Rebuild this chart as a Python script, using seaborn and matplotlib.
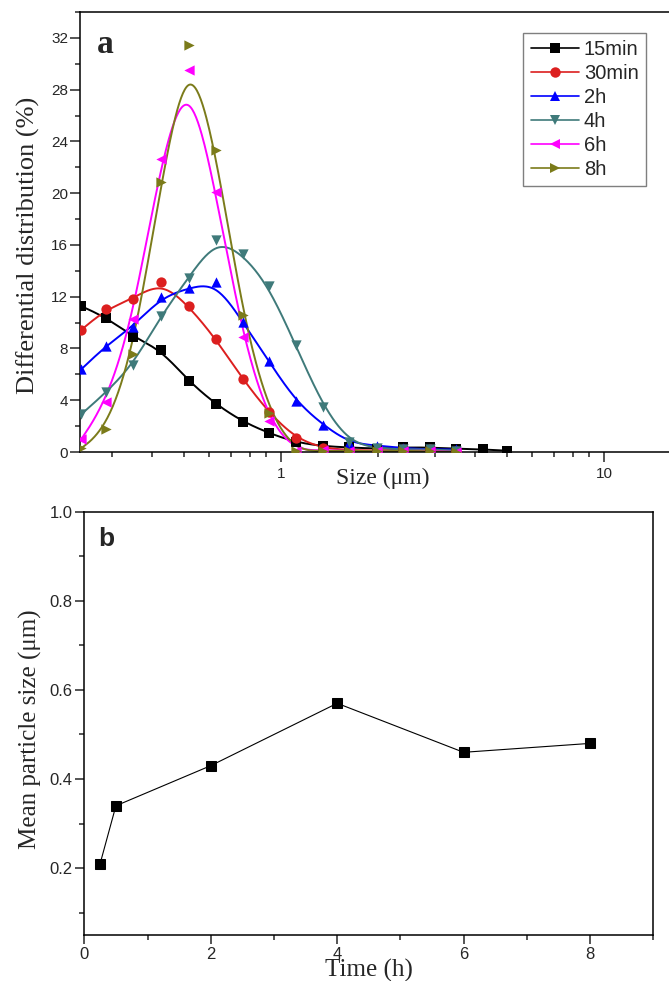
import numpy as np
import matplotlib
matplotlib.use('Agg')
import matplotlib.pyplot as plt
import matplotlib.ticker as mticker
from matplotlib.lines import Line2D
import seaborn as sns

sns.set_style('ticks')
plt.rcParams['font.family'] = ['Liberation Sans', 'DejaVu Sans']

# panel a: size distribution
size_um = [0.241, 0.288, 0.348, 0.426, 0.518, 0.629, 0.761, 0.916, 1.11,
           1.35, 1.63, 1.98, 2.39, 2.89, 3.49, 4.22, 5.01]
dist_15min = [11.27, 10.39, 8.92, 7.89, 5.47, 3.69, 2.35, 1.47, 0.75,
              0.45, 0.35, 0.25, 0.35, 0.35, 0.25, 0.20, 0.10]
dist_30min = [9.44, 11.03, 11.83, 13.17, 11.29, 8.74, 5.65, 3.07, 1.06,
              0.30, 0.15, 0.10, 0.20, 0.20, 0.10]
dist_2h = [6.39, 8.22, 9.69, 11.94, 12.66, 13.10, 10.08, 7.04, 3.94,
           2.10, 0.70, 0.50, 0.30, 0.20, 0.20]
dist_4h = [2.91, 4.62, 6.73, 10.54, 13.48, 16.40, 15.31, 12.84, 8.28,
           3.51, 0.75, 0.30, 0.20, 0.20, 0.10]
dist_6h = [0.98, 3.89, 10.26, 22.66, 29.49, 20.08, 8.92, 2.40, 0.10,
           0.15, 0.10, 0.05, 0.10, 0.10, 0.00]
dist_8h = [0.28, 1.80, 7.58, 20.83, 31.48, 23.36, 10.60, 3.04, 0.05,
           0.10, 0.10, 0.05, 0.10, 0.05, 0.00]

labels = ['15min', '30min', '2h', '4h', '6h', '8h']
series = [dist_15min, dist_30min, dist_2h, dist_4h, dist_6h, dist_8h]
colors = ['black', '#dc1f1f', '#0000ff', '#3f7a7a', '#ff00ff', '#7b7b1a']
markers = ['s', 'o', '^', 'v', '<', '>']

# panel b: mean particle size
time_h = [0.25, 0.5, 2, 4, 6, 8]
mean_size = [0.21, 0.34, 0.43, 0.57, 0.46, 0.48]


def bspline(xs, ys, n=30):
    # Origin-style cubic B-spline with the data as control points (log x)
    px = np.log10(np.asarray(xs, float))
    py = np.asarray(ys, float)
    px = np.r_[px[0], px[0], px, px[-1], px[-1]]
    py = np.r_[py[0], py[0], py, py[-1], py[-1]]
    t = np.linspace(0, 1, n)
    b0 = (1 - t) ** 3 / 6
    b1 = (3 * t ** 3 - 6 * t ** 2 + 4) / 6
    b2 = (-3 * t ** 3 + 3 * t ** 2 + 3 * t + 1) / 6
    b3 = t ** 3 / 6
    cx, cy = [], []
    for i in range(len(px) - 3):
        cx.append(b0 * px[i] + b1 * px[i + 1] + b2 * px[i + 2] + b3 * px[i + 3])
        cy.append(b0 * py[i] + b1 * py[i + 1] + b2 * py[i + 2] + b3 * py[i + 3])
    return 10 ** np.concatenate(cx), np.concatenate(cy)


fig = plt.figure(figsize=(6.69, 9.81), dpi=100)
W, H = 669, 981
ax1 = fig.add_axes([80 / W, 1 - 452 / H, 600 / W, 440 / H])
ax2 = fig.add_axes([84.3 / W, 1 - 935 / H, 569 / W, 423.3 / H])

handles = []
for lab, vals, c, m in zip(labels, series, colors, markers):
    xs = size_um[:len(vals)]
    cx, cy = bspline(xs, vals)
    sns.lineplot(x=cx, y=cy, sort=False, estimator=None, color=c, lw=1.4, ax=ax1)
    sns.scatterplot(x=xs, y=vals, marker=m, color=c, s=55 if m != 's' else 46,
                    linewidth=0, ax=ax1, zorder=3)
    handles.append(Line2D([], [], color=c, marker=m, markersize=7.5, lw=1.2,
                          markeredgewidth=0))

ax1.set_xscale('log')
ax1.set_xlim(0.2389, 17.2)
ax1.set_ylim(0, 34)
ax1.set_xticks([1, 10])
ax1.xaxis.set_major_formatter(mticker.FixedFormatter(['1', '10']))
ax1.xaxis.set_minor_locator(mticker.LogLocator(base=10, subs=np.arange(2, 10)))
ax1.xaxis.set_minor_formatter(mticker.NullFormatter())
ax1.set_yticks(np.arange(0, 33, 4))
ax1.yaxis.set_minor_locator(mticker.MultipleLocator(2))
ax1.set_xlabel('')
ax1.set_ylabel('Differential distribution (%)', family='Liberation Serif',
               fontsize=19)
ax1.yaxis.set_label_coords(-0.067, 0.47)
ax1.text(0.505, -0.059, 'Size (μm)', transform=ax1.transAxes, ha='center',
         va='center', family='Liberation Serif', fontsize=17)
ax1.text(0.028, 0.907, 'a', transform=ax1.transAxes, family='Liberation Serif',
         fontweight='bold', fontsize=24, va='baseline')
ax1.tick_params(axis='y', which='major', length=7, width=1.1, pad=1.5, labelsize=11)
ax1.tick_params(axis='x', which='major', length=7, width=1.1, pad=3.5, labelsize=11)
ax1.tick_params(which='minor', length=3.8, width=1.1)
leg = ax1.legend(handles, labels, loc='upper right',
                 bbox_to_anchor=(645.7 / W, 1 - 32.7 / H),
                 bbox_transform=fig.transFigure, borderaxespad=0,
                 fontsize=14.5, handlelength=2.4, handletextpad=0.25,
                 labelspacing=0.25, borderpad=0.35, fancybox=False,
                 framealpha=1, edgecolor='#7f7f7f')
leg.get_frame().set_linewidth(1.0)

sns.lineplot(x=time_h, y=mean_size, marker='s', color='black', lw=0.8,
             markersize=7, markeredgecolor='black', ax=ax2)
ax2.set_xlim(0, 9)
ax2.set_ylim(0.05, 1.0)
ax2.set_xticks([0, 2, 4, 6, 8])
ax2.xaxis.set_minor_locator(mticker.MultipleLocator(1))
ax2.set_yticks([0.2, 0.4, 0.6, 0.8, 1.0])
ax2.yaxis.set_major_formatter(mticker.FormatStrFormatter('%.1f'))
ax2.yaxis.set_minor_locator(mticker.FixedLocator([0.1, 0.3, 0.5, 0.7, 0.9]))
ax2.set_xlabel('Time (h)', family='Liberation Serif', fontsize=18)
ax2.xaxis.set_label_coords(0.5, -0.056)
ax2.set_ylabel('Mean particle size (μm)', family='Liberation Serif', fontsize=18)
ax2.yaxis.set_label_coords(-0.0743, 0.487)
ax2.text(0.024, 0.919, 'b', transform=ax2.transAxes, fontweight='bold',
         fontsize=19, va='baseline')
ax2.tick_params(axis='y', which='major', length=6.5, width=1.1, pad=2, labelsize=12)
ax2.tick_params(axis='x', which='major', length=6.5, width=1.1, pad=2, labelsize=12)
ax2.tick_params(which='minor', length=3.8, width=1.1)

for ax in (ax1, ax2):
    for sp in ax.spines.values():
        sp.set_linewidth(1.1)
        sp.set_color('black')

fig.savefig('out.png', dpi=100)
